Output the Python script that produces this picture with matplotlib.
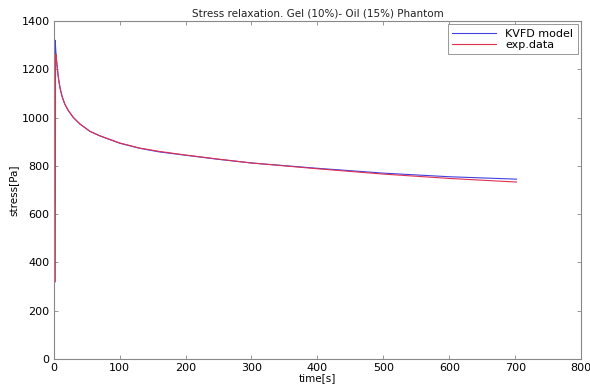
import matplotlib.pyplot as plt

# values
time_exp = [2.5, 2.8, 3.5, 4.5, 5.5, 6.5, 8, 10, 13, 17, 22, 30, 40, 55, 70, 100, 130, 160, 200, 250, 300, 400, 500, 600, 702]
stress_exp = [320, 1255, 1262, 1232, 1208, 1180, 1148, 1117, 1085, 1055, 1030, 1000, 973, 943, 925, 895, 874, 860, 845, 828, 812, 788, 766, 748, 733]

time_model = [2.0, 2.3, 3.0, 4.0, 5.0, 6.0, 7.5, 9.5, 12.5, 16.5, 21.5, 29.5, 39.5, 55, 70, 100, 130, 160, 200, 250, 300, 400, 500, 600, 702]
stress_model = [650, 1320, 1285, 1245, 1215, 1190, 1158, 1125, 1090, 1058, 1032, 1001, 974, 943, 924, 894, 873, 858, 844, 827, 812, 790, 770, 755, 745]

title = "Stress relaxation. Gel (10%)- Oil (15%) Phantom"

fig = plt.figure(figsize=(5.9, 3.89), dpi=100)
ax = fig.add_axes([0.091, 0.077, 0.894, 0.869])

ax.plot(time_model, stress_model, color="#4040e0", lw=0.8, label="KVFD model")
ax.plot(time_exp, stress_exp, color="#e03050", lw=0.8, label="exp.data")

ax.set_xlim(0, 800)
ax.set_ylim(0, 1400)
ax.set_xticks(range(0, 801, 100))
ax.set_yticks(range(0, 1401, 200))
ax.set_title(title, fontsize=7.5, pad=3, color="#222222")
ax.set_xlabel("time[s]", fontsize=7.5, labelpad=0)
ax.set_ylabel("stress[Pa]", fontsize=7.5, labelpad=2)

ax.tick_params(direction="in", top=True, right=True, labelsize=8,
               length=3, width=0.6, color="#888888", pad=3)
for s in ax.spines.values():
    s.set_color("#888888")
    s.set_linewidth(0.8)

leg = ax.legend(loc="upper right", fontsize=8, fancybox=False, framealpha=1,
                handlelength=4, borderaxespad=0.3, labelspacing=0.1)
leg.get_frame().set_edgecolor("#888888")
leg.get_frame().set_linewidth(0.6)

fig.savefig("out.png", dpi=100)
